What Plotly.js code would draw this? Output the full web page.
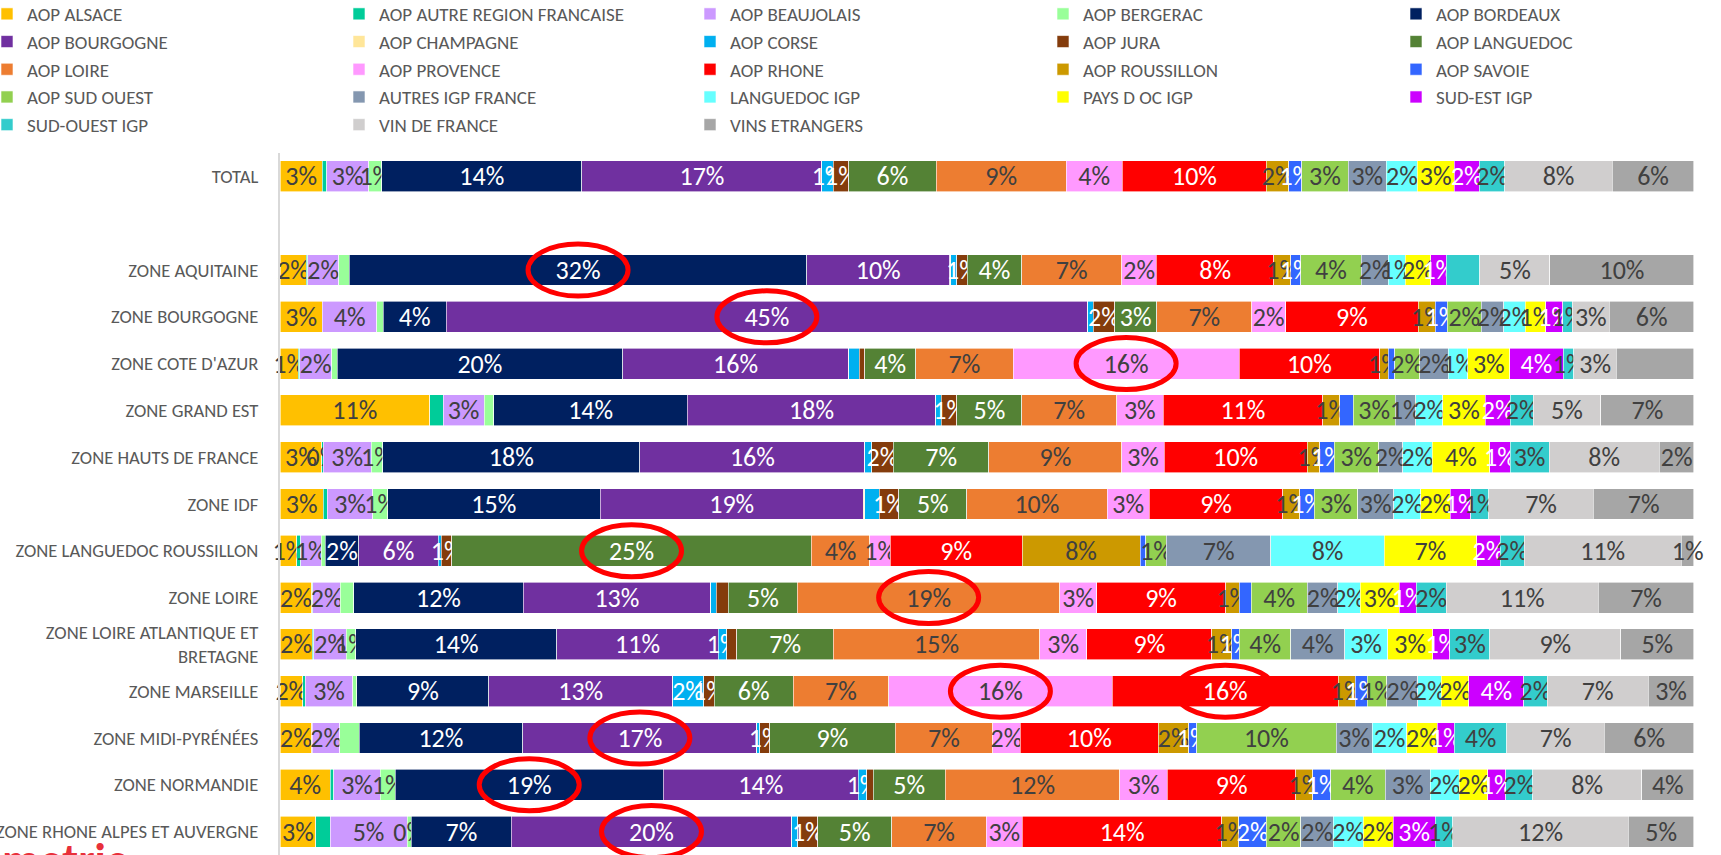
<!DOCTYPE html>
<html>
<head>
<meta charset="utf-8">
<script src="https://cdn.plot.ly/plotly-3.0.1.min.js"></script>
<style>
html,body{margin:0;padding:0;background:#ffffff;overflow:hidden}
#chart{width:1721px;height:855px}
</style>
</head>
<body>
<div id="chart"></div>
<script>
// ---------- categories ----------
const zones = [
  'TOTAL',
  'ZONE AQUITAINE',
  'ZONE BOURGOGNE',
  "ZONE COTE D'AZUR",
  'ZONE GRAND EST',
  'ZONE HAUTS DE FRANCE',
  'ZONE IDF',
  'ZONE LANGUEDOC ROUSSILLON',
  'ZONE LOIRE',
  'ZONE LOIRE ATLANTIQUE ET BRETAGNE',
  'ZONE MARSEILLE',
  'ZONE MIDI-PYRÉNÉES',
  'ZONE NORMANDIE',
  'ZONE RHONE ALPES ET AUVERGNE'
];
// empty row between TOTAL and the zones
const categoryOrder = ['TOTAL', ' '].concat(zones.slice(1));

// ---------- series (share of volume, %) — one value per zone ----------
const aopAlsace      = [3.0, 1.85, 3.0, 1.3, 10.6, 2.95, 3.05, 1.2, 2.25, 2.3, 1.6, 2.25, 3.55, 2.55];
const aopAutreRegion = [0.3, 0.1, 0, 0.1, 0.95, 0.1, 0.3, 0.25, 0.08, 0.1, 0.2, 0.05, 0.25, 1.0];
const aopBeaujolais  = [3.0, 2.2, 3.85, 2.25, 2.9, 3.4, 3.2, 1.45, 1.95, 2.3, 3.35, 1.95, 3.3, 5.45];
const aopBergerac    = [0.9, 0.75, 0.45, 0.4, 0.7, 0.8, 1.05, 0.3, 0.95, 0.65, 0.3, 1.35, 1.05, 0.3];
const aopBordeaux    = [14.2, 32.4, 4.45, 20.2, 13.7, 18.2, 15.0, 2.35, 12.0, 14.25, 9.35, 11.6, 18.95, 7.1];
const aopBourgogne   = [17.0, 10.1, 45.4, 16.0, 17.6, 15.9, 18.6, 5.65, 13.3, 11.45, 13.0, 16.6, 13.8, 19.85];
const aopChampagne   = [0, 0.1, 0, 0, 0, 0, 0.1, 0, 0, 0, 0, 0, 0, 0];
const aopCorse       = [0.8, 0.4, 0.4, 0.75, 0.4, 0.47, 1.0, 0.2, 0.4, 0.6, 2.2, 0.2, 0.6, 0.45];
const aopJura        = [1.1, 0.75, 1.5, 0.4, 1.1, 1.55, 1.4, 0.75, 0.85, 0.7, 0.75, 0.7, 0.45, 1.4];
const aopLanguedoc   = [6.2, 3.85, 3.0, 3.6, 4.6, 6.75, 4.8, 25.4, 4.9, 6.85, 5.6, 8.9, 5.1, 5.25];
const aopLoire       = [9.2, 7.1, 6.7, 6.9, 6.7, 9.4, 9.9, 4.15, 18.6, 14.6, 6.75, 6.9, 12.35, 6.7];
const aopProvence    = [4.0, 2.45, 2.4, 16.0, 3.3, 3.0, 3.0, 1.45, 2.6, 3.35, 15.85, 1.95, 3.35, 2.55];
const aopRhone       = [10.2, 8.3, 9.4, 9.95, 11.3, 10.1, 9.4, 9.3, 9.15, 8.85, 16.0, 9.8, 9.1, 14.15];
const aopRoussillon  = [1.6, 1.2, 1.2, 0.6, 1.2, 0.9, 1.2, 8.35, 0.95, 1.4, 1.2, 2.15, 1.2, 1.2];
const aopSavoie      = [0.9, 0.7, 0.85, 0.45, 0.95, 1.0, 1.05, 0.4, 0.85, 0.55, 0.85, 0.55, 1.25, 1.95];
const aopSudOuest    = [3.3, 4.3, 2.4, 1.8, 3.0, 3.15, 3.05, 1.45, 4.0, 3.65, 1.4, 9.9, 3.85, 2.45];
const autresIgp      = [2.7, 1.9, 1.6, 2.0, 1.45, 1.7, 2.55, 7.4, 2.15, 3.8, 2.2, 2.55, 3.2, 2.3];
const languedocIgp   = [2.2, 1.2, 1.5, 1.4, 1.9, 2.1, 1.9, 8.0, 1.6, 3.05, 1.65, 2.45, 2.05, 2.1];
const paysDocIgp     = [2.6, 1.8, 1.45, 2.95, 3.0, 4.05, 2.1, 6.55, 2.75, 3.2, 1.95, 2.15, 2.0, 2.15];
const sudEstIgp      = [1.8, 1.1, 1.2, 3.8, 1.8, 1.45, 1.45, 1.65, 1.2, 1.2, 3.9, 1.2, 1.3, 2.95];
const sudOuestIgp    = [1.8, 2.4, 0.7, 0.75, 1.6, 2.75, 1.25, 1.7, 2.15, 2.85, 1.65, 3.75, 1.9, 1.25];
const vinDeFrance    = [7.6, 4.95, 2.6, 3.0, 4.8, 7.8, 7.4, 11.1, 10.75, 9.25, 7.15, 6.9, 7.7, 12.45];
const vinsEtrangers  = [5.8, 10.2, 6.0, 5.5, 6.6, 2.45, 7.1, 0.9, 6.8, 5.2, 3.25, 6.35, 3.7, 4.65];

const seriesNames = [
  'AOP ALSACE','AOP AUTRE REGION FRANCAISE','AOP BEAUJOLAIS','AOP BERGERAC','AOP BORDEAUX',
  'AOP BOURGOGNE','AOP CHAMPAGNE','AOP CORSE','AOP JURA','AOP LANGUEDOC',
  'AOP LOIRE','AOP PROVENCE','AOP RHONE','AOP ROUSSILLON','AOP SAVOIE',
  'AOP SUD OUEST','AUTRES IGP FRANCE','LANGUEDOC IGP','PAYS D OC IGP','SUD-EST IGP',
  'SUD-OUEST IGP','VIN DE FRANCE','VINS ETRANGERS'
];
const seriesValues = [
  aopAlsace, aopAutreRegion, aopBeaujolais, aopBergerac, aopBordeaux,
  aopBourgogne, aopChampagne, aopCorse, aopJura, aopLanguedoc,
  aopLoire, aopProvence, aopRhone, aopRoussillon, aopSavoie,
  aopSudOuest, autresIgp, languedocIgp, paysDocIgp, sudEstIgp,
  sudOuestIgp, vinDeFrance, vinsEtrangers
];
const seriesColors = [
  '#FFC000','#00CC99','#CC99FF','#99FF99','#002060',
  '#7030A0','#FFE699','#00B0F0','#843C0C','#548235',
  '#ED7D31','#FF99FF','#FF0000','#CC9900','#3366FF',
  '#92D050','#8497B0','#66FFFF','#FFFF00','#CC00FF',
  '#33CCCC','#D0CECE','#A6A6A6'
];
const whiteLabelSeries = ['AOP BORDEAUX','AOP BOURGOGNE','AOP CORSE','AOP JURA','AOP LANGUEDOC','AOP RHONE','AOP SAVOIE','SUD-EST IGP'];

// label visibility as in the original
const unlabelledSeries = ['AOP AUTRE REGION FRANCAISE','AOP CHAMPAGNE'];
const hiddenLabels = [
  'ZONE AQUITAINE|AOP BERGERAC', 'ZONE AQUITAINE|SUD-OUEST IGP',
  "ZONE COTE D'AZUR|AOP CORSE", "ZONE COTE D'AZUR|VINS ETRANGERS",
  'ZONE GRAND EST|AOP BERGERAC', 'ZONE GRAND EST|AOP SAVOIE',
  'ZONE IDF|AOP CORSE',
  'ZONE LOIRE|AOP BERGERAC', 'ZONE LOIRE|AOP JURA', 'ZONE LOIRE|AOP SAVOIE',
  'ZONE LOIRE ATLANTIQUE ET BRETAGNE|AOP JURA',
  'ZONE MIDI-PYRÉNÉES|AOP BERGERAC'
];
const forcedLabels = ['ZONE HAUTS DE FRANCE|AOP AUTRE REGION FRANCAISE', 'ZONE RHONE ALPES ET AUVERGNE|AOP BERGERAC'];

// circled segments
const highlights = [
  ['ZONE AQUITAINE','AOP BORDEAUX'],
  ['ZONE BOURGOGNE','AOP BOURGOGNE'],
  ["ZONE COTE D'AZUR",'AOP PROVENCE'],
  ['ZONE LANGUEDOC ROUSSILLON','AOP LANGUEDOC'],
  ['ZONE LOIRE','AOP LOIRE'],
  ['ZONE MARSEILLE','AOP PROVENCE'],
  ['ZONE MARSEILLE','AOP RHONE'],
  ['ZONE MIDI-PYRÉNÉES','AOP BOURGOGNE'],
  ['ZONE NORMANDIE','AOP BORDEAUX'],
  ['ZONE RHONE ALPES ET AUVERGNE','AOP BOURGOGNE']
];

// legend: five columns, text starting at these page x positions (px)
const legendColumnX = [27, 379, 730, 1083, 1436];

const FONT = "Carlito, 'Liberation Sans', Arial, sans-serif";
const PLOT_L = 280, PLOT_W = 1414, PLOT_T = 153, PLOT_H = 702;

function labelFor(series, zone, v) {
  const key = zone + '|' + series;
  if (forcedLabels.includes(key)) return Math.round(v) + '%';
  if (unlabelledSeries.includes(series)) return '';
  if (hiddenLabels.includes(key)) return '';
  if (v < 0.5) return '';
  return Math.round(v) + '%';
}

const legendIds = ['legend', 'legend2', 'legend3', 'legend4', 'legend5'];

const traces = seriesNames.map((name, i) => {
  const vals = seriesValues[i];
  return {
    type: 'bar',
    orientation: 'h',
    name: name,
    legend: legendIds[i % 5],
    y: zones.slice(),
    x: vals.slice(),
    text: vals.map((v, j) => labelFor(name, zones[j], v)),
    textposition: 'inside',
    insidetextanchor: 'middle',
    textangle: 0,
    constraintext: 'none',
    cliponaxis: false,
    textfont: {family: FONT, size: 26, color: whiteLabelSeries.includes(name) ? '#ffffff' : '#404040'},
    marker: {color: seriesColors[i], line: {color: '#ffffff', width: 0.6}},
    hoverinfo: 'skip'
  };
});

// ellipses around highlighted segments (centre computed from the data)
const shapes = highlights.map(([zone, series]) => {
  const j = zones.indexOf(zone);
  const k = seriesNames.indexOf(series);
  let total = 0, before = 0;
  seriesValues.forEach((arr, s) => { total += arr[j]; if (s < k) before += arr[j]; });
  const centre = (before + seriesValues[k][j] / 2) / total * 100;
  return {
    type: 'circle', xref: 'x', yref: 'y',
    xsizemode: 'pixel', ysizemode: 'pixel',
    xanchor: centre, yanchor: categoryOrder.indexOf(zone),
    x0: -50, x1: 50, y0: -26, y1: 26,
    line: {color: '#FF0000', width: 5}
  };
});

const layout = {
  width: 1721, height: 855,
  paper_bgcolor: '#ffffff', plot_bgcolor: '#ffffff',
  font: {family: FONT, color: '#595959'},
  margin: {l: PLOT_L, r: 1721 - PLOT_L - PLOT_W, t: PLOT_T, b: 0, pad: 0, autoexpand: false},
  barmode: 'stack',
  barnorm: 'percent',
  bargap: 0.34,
  showlegend: true,
  // tiny headroom so rounding of the normalised stacks never pushes a bar end past the range
  xaxis: {range: [0, 100.002], visible: false, fixedrange: true},
  yaxis: {
    type: 'category',
    categoryorder: 'array', categoryarray: categoryOrder,
    tickmode: 'array', tickvals: categoryOrder,
    ticktext: categoryOrder.map(c => c.replace('ATLANTIQUE ET ', 'ATLANTIQUE ET<br>')),
    range: [categoryOrder.length - 0.5, -0.5],
    showgrid: false, zeroline: false,
    showline: true, linecolor: '#D9D9D9', linewidth: 2,
    ticks: '', ticklabelstandoff: 16,
    tickfont: {family: FONT, size: 18.6, color: '#595959'},
    automargin: false,
    fixedrange: true
  },
  shapes: shapes,
  annotations: [{
    xref: 'paper', yref: 'paper', x: -0.198, y: 0.035, xanchor: 'left', yanchor: 'top',
    text: '<b>metrie</b>', showarrow: false,
    font: {family: FONT, size: 46, color: '#E8303A'}
  }]
};

legendIds.forEach((id, c) => {
  const leftPx = legendColumnX[c] - 40;
  layout[id] = {
    orientation: 'v', traceorder: 'normal',
    x: (leftPx - PLOT_L) / PLOT_W, xanchor: 'left',
    y: 1 + (PLOT_T + 5) / PLOT_H, yanchor: 'top',
    font: {family: FONT, size: 19, color: '#595959'},
    bgcolor: 'rgba(0,0,0,0)',
    itemclick: false, itemdoubleclick: false
  };
});

Plotly.newPlot('chart', traces, layout, {displayModeBar: false, staticPlot: true});
</script>
</body>
</html>
